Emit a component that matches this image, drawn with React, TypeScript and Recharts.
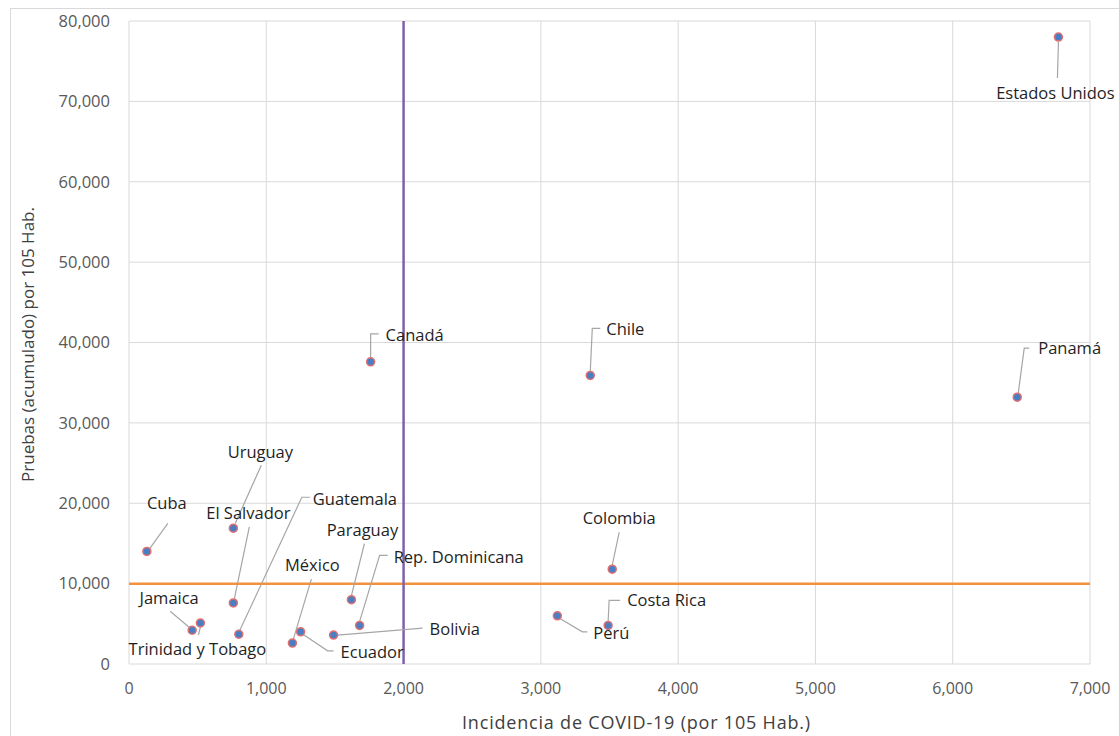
import * as React from "react";
import {
  ScatterChart,
  Scatter,
  XAxis,
  YAxis,
  CartesianGrid,
  ReferenceLine,
} from "recharts";

// Incidencia de COVID-19 vs pruebas acumuladas, por 10^5 habitantes
const countries = [
  "Estados Unidos",
  "Panamá",
  "Chile",
  "Canadá",
  "Colombia",
  "Costa Rica",
  "Perú",
  "Cuba",
  "Uruguay",
  "El Salvador",
  "Guatemala",
  "Paraguay",
  "Rep. Dominicana",
  "México",
  "Ecuador",
  "Bolivia",
  "Jamaica",
  "Trinidad y Tobago",
];
const incidencia = [6770, 6470, 3360, 1760, 3520, 3490, 3120, 130, 760, 760, 800, 1620, 1680, 1190, 1250, 1490, 460, 520];
const pruebas = [78000, 33200, 35900, 37600, 11800, 4800, 6000, 14000, 16900, 7600, 3700, 8000, 4800, 2600, 4000, 3600, 4200, 5100];

const xTicks = [0, 1000, 2000, 3000, 4000, 5000, 6000, 7000];
const yTicks = [0, 10000, 20000, 30000, 40000, 50000, 60000, 70000, 80000];
const incidenciaUmbral = 2000;
const pruebasUmbral = 10000;

// label placement (pixels relative to the marker): leader polyline + text anchor
type LabelPos = { leader: number[][]; tx: number; ty: number; anchor: "start" | "middle" };
const labelPos: Record<string, LabelPos> = {
  "Estados Unidos": { leader: [[0, 5], [-1, 41]], tx: -3, ty: 56, anchor: "middle" },
  "Panamá": { leader: [[1, -4], [7, -49], [12, -49]], tx: 21, ty: -49, anchor: "start" },
  "Chile": { leader: [[0, -4], [2, -47], [10, -47]], tx: 16, ty: -46, anchor: "start" },
  "Canadá": { leader: [[0, -4], [0, -28], [8, -28]], tx: 15, ty: -27, anchor: "start" },
  "Colombia": { leader: [[0, -4], [7, -37]], tx: 7, ty: -51, anchor: "middle" },
  "Costa Rica": { leader: [[0, -4], [1, -25], [12, -25]], tx: 19, ty: -25, anchor: "start" },
  "Perú": { leader: [[3, 3], [25, 16], [30, 16]], tx: 36, ty: 17, anchor: "start" },
  "Cuba": { leader: [[3, -3], [21, -28]], tx: 20, ty: -48, anchor: "middle" },
  "Uruguay": { leader: [[2, -5], [28, -63]], tx: 27, ty: -76, anchor: "middle" },
  "El Salvador": { leader: [[1, -4], [16, -76]], tx: 15, ty: -90, anchor: "middle" },
  "Guatemala": { leader: [[1, -4], [63, -137], [71, -137]], tx: 74, ty: -135, anchor: "start" },
  "Paraguay": { leader: [[0, -4], [13, -56]], tx: 11, ty: -69, anchor: "middle" },
  "Rep. Dominicana": { leader: [[0, -4], [20, -70], [28, -70]], tx: 34, ty: -68, anchor: "start" },
  "México": { leader: [[1, -4], [19, -64]], tx: 20, ty: -78, anchor: "middle" },
  "Ecuador": { leader: [[3, 3], [27, 19], [33, 19]], tx: 40, ty: 20, anchor: "start" },
  "Bolivia": { leader: [[4, 0], [89, -7]], tx: 96, ty: -6, anchor: "start" },
  "Jamaica": { leader: [[-3, -3], [-22, -19]], tx: -23, ty: -32, anchor: "middle" },
  "Trinidad y Tobago": { leader: [[0, 4], [-2, 12]], tx: -3, ty: 26, anchor: "middle" },
};

const data = countries.map((name, i) => ({ name, x: incidencia[i], y: pruebas[i] }));

const fmt = (v: number) => v.toLocaleString("en-US");

function PointWithLabel(props: any) {
  const { cx, cy, payload } = props;
  if (cx == null || cy == null) return null;
  const pos = labelPos[payload.name];
  return (
    <g>
      {pos && (
        <polyline
          points={pos.leader.map(([dx, dy]) => `${cx + dx},${cy + dy}`).join(" ")}
          fill="none"
          stroke="#a6a6a6"
          strokeWidth={1.2}
        />
      )}
      <circle cx={cx} cy={cy} r={4} fill="#4a7ec4" stroke="#e07070" strokeWidth={1.5} />
      {pos && (
        <text
          x={cx + pos.tx}
          y={cy + pos.ty}
          dy="0.35em"
          textAnchor={pos.anchor}
          fontFamily="'Open Sans', sans-serif"
          fontSize={16.5}
          fill="#1f1f1f"
        >
          {payload.name}
        </text>
      )}
    </g>
  );
}

export default function App() {
  return (
    <div
      style={{
        position: "fixed",
        left: 0,
        top: 0,
        width: 1119,
        height: 736,
        overflow: "hidden",
        background: "#fff",
      }}
    >
      <div
        style={{
          position: "absolute",
          left: 10,
          top: 8,
          width: 1200,
          height: 800,
          border: "1px solid #d9d9d9",
        }}
      />
      <div style={{ position: "absolute", left: 0, top: 0 }}>
        <ScatterChart width={1119} height={736} margin={{ top: 21, right: 29, bottom: 0, left: 0 }}>
          <CartesianGrid stroke="#d9d9d9" strokeWidth={1} />
          <XAxis
            type="number"
            dataKey="x"
            domain={[0, 7000]}
            ticks={xTicks}
            tickFormatter={fmt}
            height={72}
            axisLine={false}
            tickLine={false}
            tickSize={0}
            tickMargin={19}
            tick={{ fill: "#595959", fontSize: 16, fontFamily: "'Open Sans', sans-serif" }}
            label={{
              content: ({ viewBox }: any) => (
                <text
                  x={viewBox.x + viewBox.width / 2 + 27}
                  y={723}
                  dy="0.35em"
                  textAnchor="middle"
                  fontFamily="'Open Sans', sans-serif"
                  fontSize={18}
                  letterSpacing={0.8}
                  fill="#404040"
                >
                  Incidencia de COVID-19 (por 105 Hab.)
                </text>
              ),
            }}
          />
          <YAxis
            type="number"
            dataKey="y"
            domain={[0, 80000]}
            ticks={yTicks}
            tickFormatter={fmt}
            width={129}
            axisLine={false}
            tickLine={false}
            tickSize={0}
            tickMargin={19}
            tick={{ fill: "#595959", fontSize: 16.5, fontFamily: "'Open Sans', sans-serif" }}
            label={{
              content: ({ viewBox }: any) => {
                const cy = viewBox.y + viewBox.height / 2 + 2;
                return (
                  <text
                    x={28}
                    y={cy}
                    dy="0.35em"
                    textAnchor="middle"
                    transform={`rotate(-90, 28, ${cy})`}
                    fontFamily="'Open Sans', sans-serif"
                    fontSize={17}
                    fill="#404040"
                  >
                    Pruebas (acumulado) por 105 Hab.
                  </text>
                );
              },
            }}
          />
          <Scatter data={data} shape={PointWithLabel} isAnimationActive={false} />
          <ReferenceLine y={pruebasUmbral} stroke="#f4913c" strokeWidth={2.5} />
          <ReferenceLine x={incidenciaUmbral} stroke="#7e62a8" strokeWidth={2.5} />
        </ScatterChart>
      </div>
    </div>
  );
}
